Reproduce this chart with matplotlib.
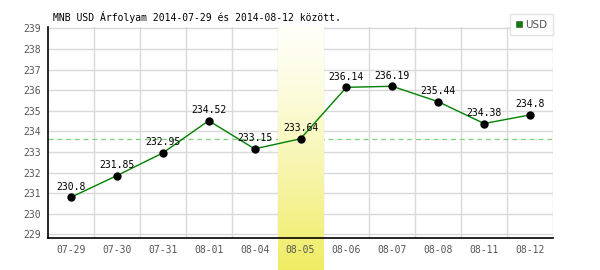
import numpy as np
import matplotlib
matplotlib.use("Agg")
import matplotlib.pyplot as plt

dates = ["07-29", "07-30", "07-31", "08-01", "08-04", "08-05",
         "08-06", "08-07", "08-08", "08-11", "08-12"]
usd = [230.8, 231.85, 232.95, 234.52, 233.15, 233.64,
       236.14, 236.19, 235.44, 234.38, 234.8]
labels = ["230.8", "231.85", "232.95", "234.52", "233.15", "233.64",
          "236.14", "236.19", "235.44", "234.38", "234.8"]
highlight = 5  # 08-05
title = "MNB USD Árfolyam 2014-07-29 és 2014-08-12 között."

mono = "DejaVu Sans Mono"
fig = plt.figure(figsize=(6, 2.7), dpi=100)
ax = fig.add_axes([48/600, 32/270, 505/600, 211/270])
x = np.arange(len(dates))
ymin, ymax = 228.82, 239.07

# grid
for v in range(229, 240):
    ax.axhline(v, color="#d9d9d9", lw=1, zorder=1)
for b in np.arange(0.5, len(dates), 1.0):
    ax.axvline(b, color="#d9d9d9", lw=1, zorder=1)

# dashed reference line at highlighted value
ax.axhline(usd[highlight], color="#7fd27f", lw=0.9, ls=(0, (4, 3)), zorder=2)

# highlighted column, gradient white -> yellow, runs down to figure bottom
grad = np.linspace(0, 1, 256).reshape(-1, 1) ** 1.3
top = np.array([1.0, 1.0, 0.97])
bot = np.array([0.94, 0.925, 0.38])
img = top + (bot - top) * grad[:, :, None]
ax.imshow(img, extent=(highlight - 0.5, highlight + 0.5, 227.2, ymax),
          origin="upper", aspect="auto", zorder=3, clip_on=False)
ax.set_xlim(-0.5, len(dates) - 0.5)
ax.set_ylim(ymin, ymax)

ax.plot(x, usd, color="#008000", lw=1, zorder=4, label="USD")
ax.plot(x, usd, "o", color="black", ms=5, zorder=5)
for xi, yi, t in zip(x, usd, labels):
    ax.annotate(t, (xi, yi), xytext=(0, 4), textcoords="offset points",
                ha="center", va="bottom", fontsize=7, family=mono, zorder=6)

for s in ["top", "right"]:
    ax.spines[s].set_visible(False)
for s in ["left", "bottom"]:
    ax.spines[s].set_linewidth(1.2)
    ax.spines[s].set_zorder(7)
ax.xaxis.set_zorder(8)
ax.yaxis.set_zorder(8)

ax.set_xticks(x)
ax.set_xticklabels(dates, family=mono, fontsize=7, color="#555555")
ax.set_yticks(range(229, 240))
ax.set_yticklabels([str(v) for v in range(229, 240)], family=mono, fontsize=7, color="#555555")
ax.tick_params(length=0, pad=5)

fig.text(53/600, 1 - 17/270, title, family=mono, fontsize=7, va="center", ha="left")

h = plt.Line2D([], [], marker="s", color="#008000", ls="none", ms=5,
               markeredgecolor="#555555", markeredgewidth=0.5)
leg = fig.legend([h], ["USD"], loc="upper right", bbox_to_anchor=(553/600, 1 - 14/270),
                 fontsize=7.5, frameon=True, fancybox=False, edgecolor="#dddddd",
                 handlelength=0.6, handletextpad=0.3, borderpad=0.55, borderaxespad=0)
for t in leg.get_texts():
    t.set_color("#555555")

fig.savefig("out.png", dpi=100)
